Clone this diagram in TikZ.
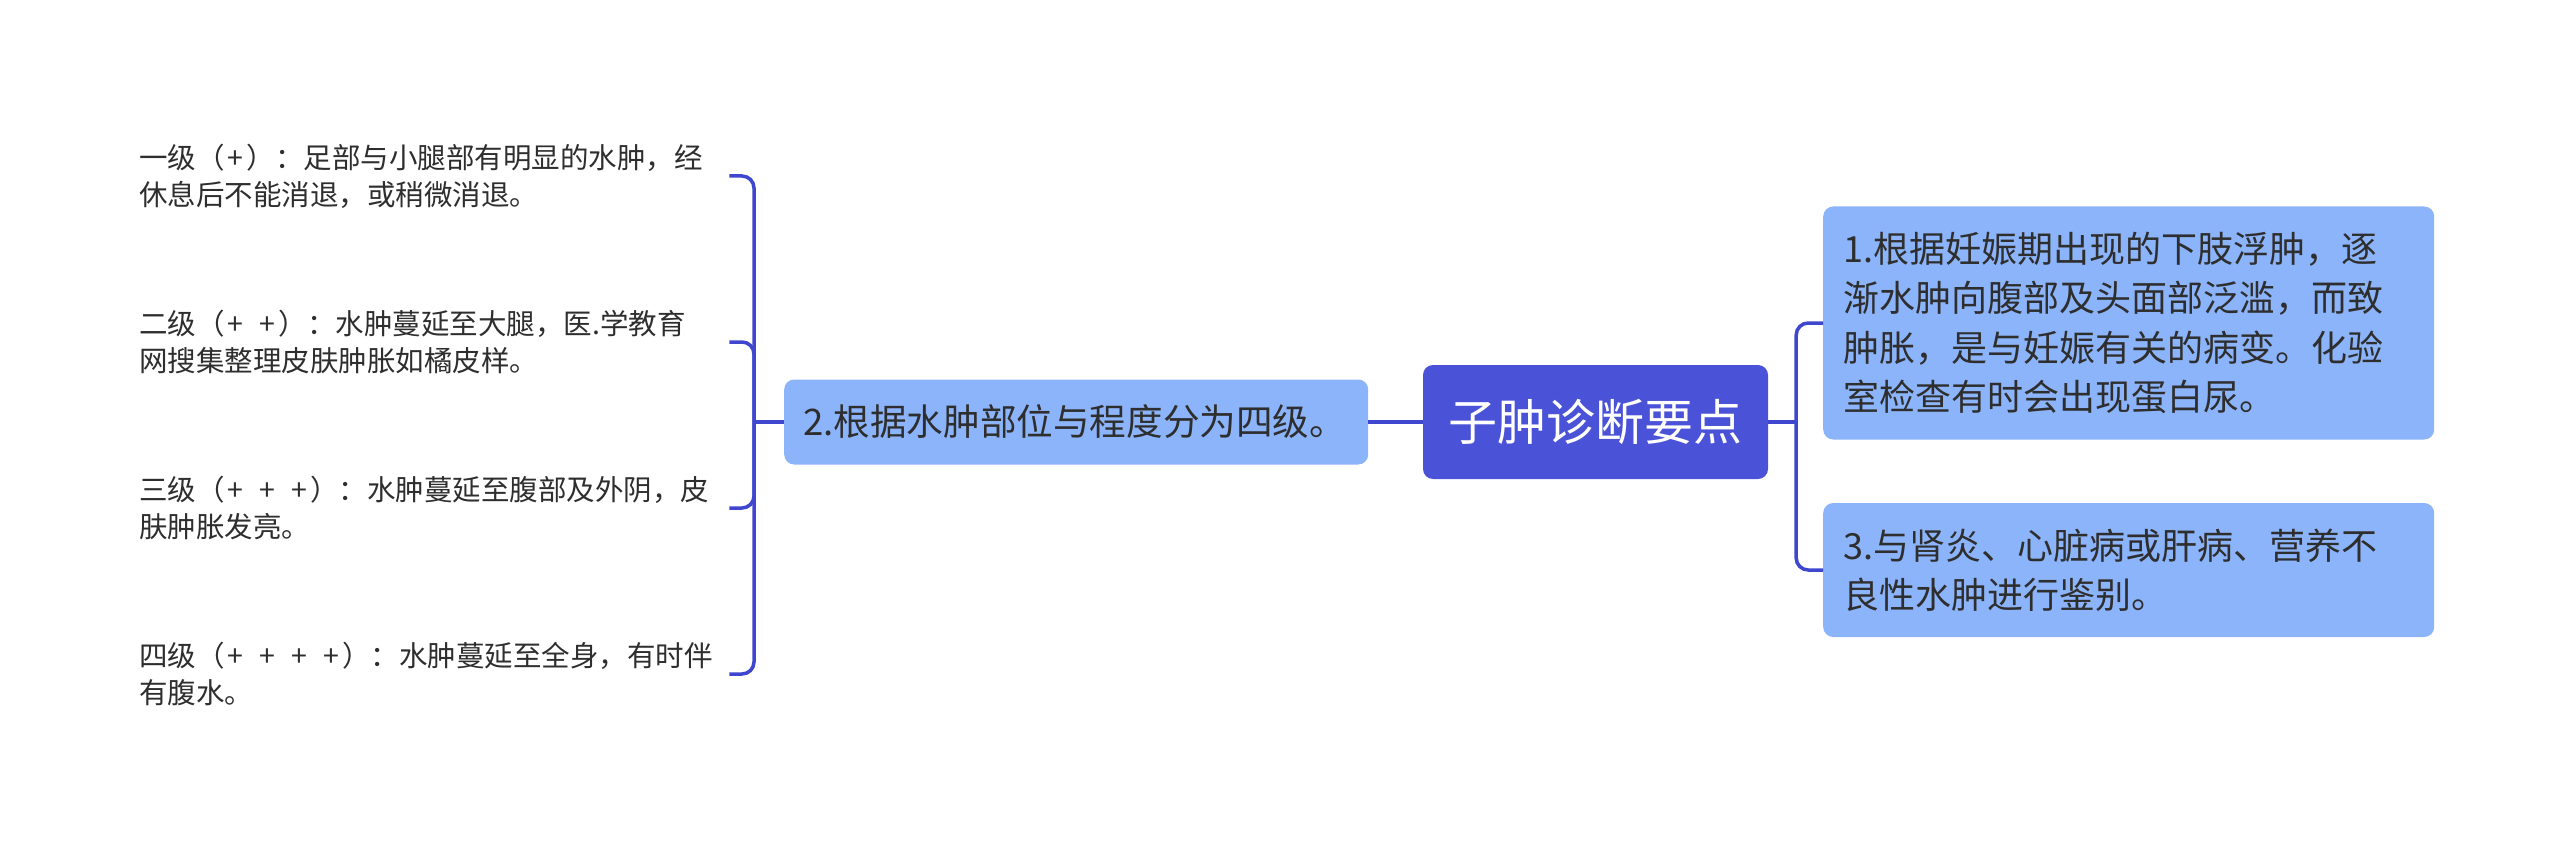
\documentclass[tikz,border=0pt]{standalone}
\usepackage{fontspec}
\setmainfont{Noto Sans CJK SC}
\definecolor{rootc}{HTML}{4A52D8}
\definecolor{boxc}{HTML}{8CB4FA}
\definecolor{linec}{HTML}{3F47CF}
\definecolor{txtc}{HTML}{2E2E2E}
\newcommand{\pl}{\makebox[0.78em]{+}}
\begin{document}
\begin{tikzpicture}[x=1pt,y=-1pt,
  conn/.style={draw=linec,line width=3.5pt},
  rootbox/.style={fill=rootc,rounded corners=10pt,text=white,minimum width=345pt,minimum height=114pt,inner sep=0pt,font=\fontsize{49}{56}\selectfont},
  subbox/.style={fill=boxc,rounded corners=10pt,text=txtc,inner xsep=20pt,inner ysep=0pt,align=left,font=\fontsize{36}{49.5}\selectfont},
  leaf/.style={text=txtc,inner sep=0pt,align=left,text width=590pt,font=\fontsize{28.5}{37}\selectfont,anchor=west}
]
\useasboundingbox (0,0) rectangle (2560,845);
\fill[white] (0,0) rectangle (2560,845);
\node[rootbox] (root) at (1595.5,422) {子肿诊断要点};
\node[subbox,text width=571pt,minimum height=233pt,anchor=west] (b1) at (1823,323) {1.根据妊娠期出现的下肢浮肿，逐\\渐水肿向腹部及头面部泛滥，而致\\肿胀，是与妊娠有关的病变。化验\\室检查有时会出现蛋白尿。};
\node[subbox,text width=571pt,minimum height=134pt,anchor=west] (b3) at (1823,570) {3.与肾炎、心脏病或肝病、营养不\\良性水肿进行鉴别。};
\node[subbox,inner xsep=19pt,text width=546pt,minimum height=85pt,anchor=west,font=\fontsize{36.6}{49.5}\selectfont] (b2) at (784,422) {2.根据水肿部位与程度分为四级。};
\node[leaf] (l1) at (139,176) {一级（\pl）：足部与小腿部有明显的水肿，经\\休息后不能消退，或稍微消退。};
\node[leaf] (l2) at (139,342) {二级（\pl{} \pl）：水肿蔓延至大腿，医.学教育\\网搜集整理皮肤肿胀如橘皮样。};
\node[leaf] (l3) at (139,508) {三级（\pl{} \pl{} \pl）：水肿蔓延至腹部及外阴，皮\\肤肿胀发亮。};
\node[leaf] (l4) at (139,674) {四级（\pl{} \pl{} \pl{} \pl）：水肿蔓延至全身，有时伴\\有腹水。};
\coordinate (rj) at ([xshift=28pt]root.east);
\coordinate (lj) at ([xshift=-30pt]b2.west);
\draw[conn] (root.east) -- (rj);
\draw[conn,rounded corners=12pt] (rj) |- (b1.west);
\draw[conn,rounded corners=12pt] (rj) |- (b3.west);
\draw[conn] (root.west) -- (b2.east);
\draw[conn] (b2.west) -- (lj);
\foreach \l in {l1,l2,l3,l4}{\draw[conn,rounded corners=12pt] (lj) |- (\l.east);}
\end{tikzpicture}
\end{document}
